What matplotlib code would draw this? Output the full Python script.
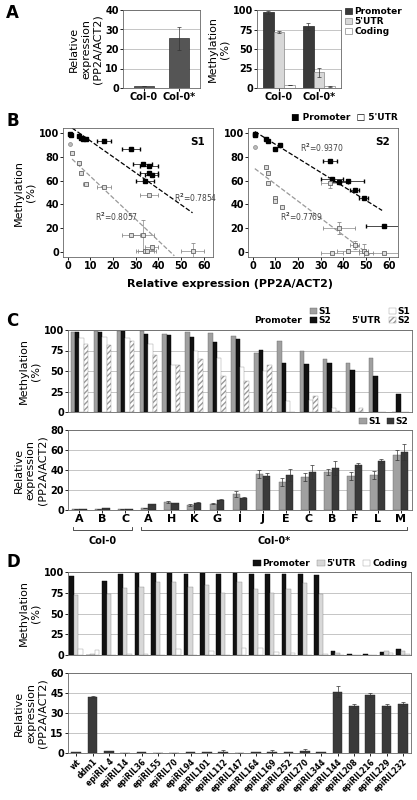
import matplotlib
matplotlib.use("Agg")
import matplotlib.pyplot as plt
import numpy as np

plt.rcParams['font.family'] = ['DejaVu Sans']
plt.rcParams['font.weight'] = 'bold'
FS = 7

# ---- data ----
a_groups = ["Col-0", "Col-0*"]
a_expr = [1, 25.5]; a_expr_err = [0, 6]
a_prom = [97, 79]; a_utr = [72, 20]; a_cod = [4, 2]
a_prom_err = [2, 4]; a_utr_err = [1.5, 6]; a_cod_err = [0, 0.5]

b1_prom_x = [1, 1.5, 5, 6, 7, 8, 16, 28, 33, 36, 36, 37, 34]
b1_prom_y = [99, 98, 97, 96, 95, 95, 93, 86, 74, 72, 66, 65, 60]
b1_prom_xerr = [0, 0, 0, 0, 0, 0, 3, 4, 4, 4, 4, 3, 4]
b1_utr_x = [2, 5, 6, 8, 16, 36, 28, 33, 34, 35, 37, 55]
b1_utr_y = [83, 75, 66, 57, 55, 48, 14, 14, 1, 1, 4, 1]
b1_utr_xerr = [0, 0, 0, 1, 3, 4, 4, 5, 4, 4, 3, 5]
b1_utr_yerr = [0, 0, 0, 0, 0, 0, 0, 13, 0, 0, 2, 7]
b1_line_prom = ([2, 55], [104, 33]); b1_line_utr = ([2, 47], [78, -3])
b2_prom_x = [1, 1, 6, 7, 10, 12, 34, 35, 38, 42, 45, 49, 58]
b2_prom_y = [99, 98, 95, 93, 86, 90, 76, 61, 59, 60, 52, 45, 22]
b2_prom_xerr = [0, 0, 0, 0, 0, 0, 3, 5, 4, 7, 2, 2, 8]
b2_utr_x = [6, 7, 7, 10, 10, 13, 34, 38, 35, 42, 45, 49, 50, 58]
b2_utr_y = [71, 66, 58, 45, 43, 38, 58, 20, -1, 1, 6, 1, -1, -1]
b2_utr_xerr = [0, 0, 0, 0, 0, 0, 4, 7, 5, 5, 2, 2, 3, 7]
b2_utr_yerr = [0, 0, 0, 0, 0, 0, 4, 5, 0, 2, 3, 6, 0, 0]
b2_line_prom = ([1, 57], [101, 35]); b2_line_utr = ([1, 52], [70, -3])

c_cats = ["A", "B", "C", "A", "H", "K", "G", "I", "J", "E", "C", "B", "F", "L", "M"]
c_prom_s1 = [98, 99, 99, 99, 95, 97, 96, 93, 72, 86, 75, 65, 60, 66, 0]
c_prom_s2 = [97, 97, 99, 95, 94, 92, 85, 89, 76, 60, 58, 60, 51, 44, 22]
c_utr_s1 = [90, 92, 90, 83, 57, 75, 66, 55, 50, 14, 15, 5, 0, 0, 0]
c_utr_s2 = [83, 82, 87, 70, 57, 65, 44, 38, 57, 0, 20, 1, 5, 0, 0]
c_expr_s1 = [0.5, 0.5, 1, 1.5, 8, 5, 6, 16, 36, 28, 33, 38, 34, 35, 55]
c_expr_s2 = [0.5, 1.5, 1, 5.5, 6.5, 7, 10, 12, 34, 35, 38, 42, 45, 49, 58]
c_err_s1 = [0, 0, 0, 0, 1, 1, 0.5, 3, 4, 4, 4, 3, 4, 4, 5]
c_err_s2 = [0, 0, 0, 0.5, 0.5, 0.5, 0.5, 1, 3, 6, 7, 7, 2, 2, 8]

d_cats = ["wt", "ddm1", "epiRIL 4", "epiRIL14", "epiRIL36", "epiRIL55", "epiRIL70",
          "epiRIL94", "epiRIL101", "epiRIL112", "epiRIL147", "epiRIL164", "epiRIL169",
          "epiRIL252", "epiRIL270", "epiRIL344", "epiRIL144", "epiRIL208", "epiRIL216",
          "epiRIL229", "epiRIL232"]
d_prom = [95, 0, 89, 98, 99, 99, 99, 98, 99, 97, 99, 98, 97, 97, 97, 96, 5, 1, 1, 4, 7]
d_utr = [72, 1, 74, 81, 82, 88, 88, 82, 84, 75, 88, 80, 75, 79, 87, 74, 3, 0, 0, 5, 5]
d_cod = [7, 6, 0, 1, 1, 0, 7, 0, 5, 0, 9, 8, 4, 3, 0, 1, 0, 0, 0, 3, 1]
d_expr = [1, 42, 1.5, 0.2, 0.5, 0.2, 0.3, 0.5, 0.5, 1, 0.3, 1, 1, 0.8, 1.5, 0.5, 46, 35.5, 43.5, 35.5, 36.5]
d_expr_err = [0, 0.5, 0, 0, 0, 0, 0, 0, 0, 1, 0, 0, 1, 0, 1.5, 0, 4, 1.5, 1.5, 1.5, 1.5]

DARK = "#3a3a3a"; GRAY = "#a0a0a0"; LIGHT = "#d8d8d8"; BLACK = "#111111"
W, H = 417, 800
fig = plt.figure(figsize=(W/100, H/100), dpi=100)

def ax_px(x0, y0, x1, y1):
    return fig.add_axes([x0/W, 1-y1/H, (x1-x0)/W, (y1-y0)/H])

def letter(s, ypx):
    fig.text(6/W, 1-ypx/H, s, fontsize=12, fontweight='bold', va='top')

def style(ax, grid=True):
    ax.tick_params(labelsize=FS, length=2, width=0.6, pad=1)
    for s in ax.spines.values():
        s.set_linewidth(0.6); s.set_color("#666")
    if grid:
        ax.yaxis.grid(True, color="#bbb", lw=0.6); ax.set_axisbelow(True)

ek = dict(capsize=1.5, elinewidth=0.5, ecolor="#333", capthick=0.5)

# ---- A ----
letter("A", 4)
ax = ax_px(123, 10, 200, 88)
x = np.arange(2)
ax.bar(x, a_expr, 0.55, yerr=a_expr_err, color="#555", edgecolor="#333", lw=0.5, error_kw=ek)
ax.set_ylim(0, 40); ax.set_yticks([0, 10, 20, 30, 40]); ax.set_xticks(x, a_groups)
ax.set_xlim(-0.6, 1.6)
ax.set_ylabel("Relative\nexpression\n(PP2A/ACT2)", fontsize=FS+1, labelpad=2)
style(ax)
ax = ax_px(257, 10, 341, 88)
w = 0.27
ax.bar(x-w, a_prom, w, yerr=a_prom_err, color=DARK, edgecolor="#222", lw=0.5, label="Promoter", error_kw=ek)
ax.bar(x, a_utr, w, yerr=a_utr_err, color=LIGHT, edgecolor="#888", lw=0.5, label="5'UTR", error_kw=ek)
ax.bar(x+w, a_cod, w, yerr=a_cod_err, color="white", edgecolor="#888", lw=0.5, label="Coding", error_kw=ek)
ax.set_ylim(0, 100); ax.set_yticks([0, 25, 50, 75, 100]); ax.set_xticks(x, a_groups)
ax.set_xlim(-0.55, 1.55)
ax.set_ylabel("Methylation\n(%)", fontsize=FS+1, labelpad=2)
ax.legend(loc="upper left", bbox_to_anchor=(1.0, 1.08), fontsize=FS-0.5, frameon=False,
          handlelength=0.8, handletextpad=0.3, labelspacing=0.1, borderaxespad=0)
style(ax)

# ---- B ----
letter("B", 112)
def scat(ax, px, py, pxe, ux, uy, uxe, uye, lp, lu, r1, r1pos, r2, r2pos, title, circ):
    ax.plot(*lp, ls="--", color="black", lw=0.9)
    ax.plot(*lu, ls="--", color="#999", lw=0.9)
    ax.errorbar(px, py, xerr=pxe, fmt="s", ms=2.5, color="black", ecolor="black", elinewidth=0.5, capsize=1.2)
    ax.errorbar(ux, uy, xerr=uxe, yerr=uye, fmt="s", ms=2.8, mfc="#ddd", mec="#666", mew=0.6,
                ecolor="#888", elinewidth=0.5, capsize=1.2)
    ax.plot([circ[0]], [circ[1]], "o", ms=2.8, mfc="#bbb", mec="#888", mew=0.5)
    ax.text(*r1pos, r1, fontsize=5.5, color="#444", fontweight='normal')
    ax.text(*r2pos, r2, fontsize=5.5, color="#444", fontweight='normal')
    ax.text(0.95, 0.93, title, transform=ax.transAxes, ha="right", va="top", fontsize=FS+0.5)
    ax.set_xlim(-2, 64); ax.set_ylim(-4, 104)
    ax.set_xticks(range(0, 61, 10)); ax.set_yticks(range(0, 101, 20))
    style(ax, grid=False)
ax = ax_px(63, 128, 213, 257)
scat(ax, b1_prom_x, b1_prom_y, b1_prom_xerr, b1_utr_x, b1_utr_y, b1_utr_xerr, b1_utr_yerr,
     b1_line_prom, b1_line_utr, "R$^2$=0.7854", (47, 42), "R$^2$=0.8057", (12, 26), "S1", (1, 91))
ax.set_ylabel("Methylation\n(%)", fontsize=FS+1, labelpad=2)
ax2 = ax_px(248, 128, 398, 257)
scat(ax2, b2_prom_x, b2_prom_y, b2_prom_xerr, b2_utr_x, b2_utr_y, b2_utr_xerr, b2_utr_yerr,
     b2_line_prom, b2_line_utr, "R$^2$=0.9370", (21, 84), "R$^2$=0.7769", (12, 26), "S2", (1, 88))
fig.text(230/W, 1-287/H, "Relative expression (PP2A/ACT2)", ha="center", fontsize=FS+1)
fig.text(398/W, 1-120/H, "■ Promoter  □ 5'UTR", fontsize=FS-0.5, ha="right")

# ---- C ----
letter("C", 312)
xc = np.arange(len(c_cats))
ax = ax_px(68, 330, 412, 412)
w = 0.19
ax.bar(xc-1.5*w, c_prom_s1, w, color=GRAY, edgecolor="#666", lw=0.3, label="S1")
ax.bar(xc-0.5*w, c_prom_s2, w, color=BLACK, edgecolor="#000", lw=0.3, label="S2")
ax.bar(xc+0.5*w, c_utr_s1, w, color="white", edgecolor="#999", lw=0.3, label="S1 ")
ax.bar(xc+1.5*w, c_utr_s2, w, color="white", edgecolor="#999", hatch="//////", lw=0.3, label="S2 ")
ax.set_ylim(0, 100); ax.set_yticks([0, 25, 50, 75, 100]); ax.set_xticks([])
ax.set_xlim(-0.5, len(c_cats)-0.5)
ax.set_ylabel("Methylation\n(%)", fontsize=FS+1, labelpad=2)
style(ax)
h, l = ax.get_legend_handles_labels()
fig.legend(h[:2], ["S1", "S2"], loc="lower left", bbox_to_anchor=(305/W, 1-330/H), fontsize=FS-0.5,
           frameon=False, handlelength=0.8, handletextpad=0.2, labelspacing=0.05, borderpad=0)
fig.legend(h[2:], ["S1", "S2"], loc="lower left", bbox_to_anchor=(384/W, 1-330/H), fontsize=FS-0.5,
           frameon=False, handlelength=0.8, handletextpad=0.2, labelspacing=0.05, borderpad=0)
fig.text(302/W, 1-323/H, "Promoter", fontsize=FS-0.5, ha="right")
fig.text(381/W, 1-323/H, "5'UTR", fontsize=FS-0.5, ha="right")

ax = ax_px(68, 430, 412, 510)
w = 0.32
ax.bar(xc-w/2, c_expr_s1, w, yerr=c_err_s1, color=GRAY, edgecolor="#666", lw=0.3, label="S1", error_kw=ek)
ax.bar(xc+w/2, c_expr_s2, w, yerr=c_err_s2, color=DARK, edgecolor="#222", lw=0.3, label="S2", error_kw=ek)
ax.set_ylim(0, 80); ax.set_yticks([0, 20, 40, 60, 80])
ax.set_xticks(xc, c_cats)
ax.set_xlim(-0.5, len(c_cats)-0.5)
ax.set_ylabel("Relative\nexpression\n(PP2A/ACT2)", fontsize=FS+1, labelpad=2)
ax.legend(loc="lower right", bbox_to_anchor=(1.0, 1.0), ncol=2, fontsize=FS-0.5, frameon=False,
          handlelength=0.8, handletextpad=0.2, columnspacing=0.6, borderaxespad=0)
style(ax)
ax.tick_params(axis='x', labelsize=FS+1)
def bracket(x0, x1, label):
    tr = ax.get_xaxis_transform()
    ax.plot([x0, x0, x1, x1], [-0.21, -0.25, -0.25, -0.21], color="#333", lw=0.6, transform=tr, clip_on=False)
    ax.text((x0+x1)/2, -0.33, label, transform=tr, ha="center", va="top", fontsize=FS)
bracket(-0.3, 2.3, "Col-0"); bracket(2.7, 14.3, "Col-0*")

# ---- D ----
letter("D", 553)
xd = np.arange(len(d_cats))
ax = ax_px(68, 572, 411, 655)
w = 0.28
ax.bar(xd-w, d_prom, w, color=BLACK, edgecolor="#000", lw=0.3, label="Promoter")
ax.bar(xd, d_utr, w, color=LIGHT, edgecolor="#888", lw=0.3, label="5'UTR")
ax.bar(xd+w, d_cod, w, color="white", edgecolor="#999", lw=0.3, label="Coding")
ax.set_ylim(0, 100); ax.set_yticks([0, 25, 50, 75, 100]); ax.set_xticks([])
ax.set_xlim(-0.5, len(d_cats)-0.5)
ax.set_ylabel("Methylation\n(%)", fontsize=FS+1, labelpad=2)
ax.legend(loc="lower right", bbox_to_anchor=(1.0, 1.0), ncol=3, fontsize=FS-0.5, frameon=False,
          handlelength=0.8, handletextpad=0.2, columnspacing=0.8, borderaxespad=0)
style(ax)
ax = ax_px(68, 673, 411, 753)
ax.bar(xd, d_expr, 0.6, yerr=d_expr_err, color=DARK, edgecolor="#222", lw=0.3, error_kw=ek)
ax.set_ylim(0, 60); ax.set_yticks([0, 15, 30, 45, 60])
ax.set_xlim(-0.5, len(d_cats)-0.5)
ax.set_xticks(xd, d_cats, rotation=45, ha="right", rotation_mode="anchor")
ax.set_ylabel("Relative\nexpression\n(PP2A/ACT2)", fontsize=FS+1, labelpad=2)
style(ax)
ax.tick_params(axis='x', labelsize=5.5)

fig.savefig("out.png", dpi=100)
